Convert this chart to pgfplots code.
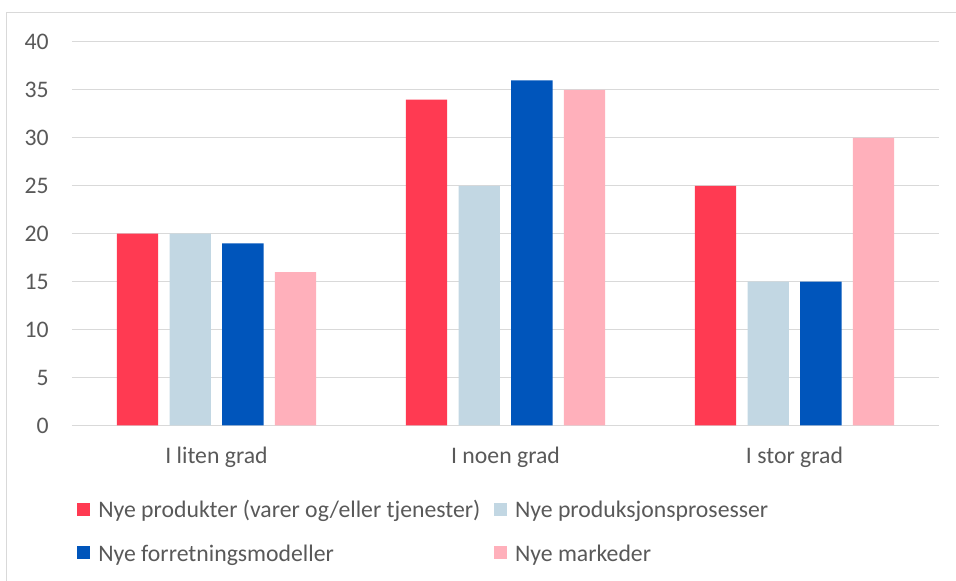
\documentclass[border=0pt]{standalone}
\usepackage{fontspec}
\setmainfont{Carlito}
\usepackage{pgfplots}
\pgfplotsset{compat=1.18}

\definecolor{cred}{HTML}{FF3A52}
\definecolor{clblue}{HTML}{C2D7E3}
\definecolor{cblue}{HTML}{0055BB}
\definecolor{cpink}{HTML}{FFB0BB}
\definecolor{gridc}{HTML}{D9D9D9}
\definecolor{textc}{HTML}{595959}

\newcommand{\chfont}{\fontsize{17.8}{21}\selectfont}

\begin{document}
\begin{tikzpicture}
\begin{axis}[
    scale only axis,
    width=650.25pt, height=287.6pt,
    ybar=8.5pt, bar width=31pt,
    xmin=-0.5, xmax=2.5,
    ymin=0, ymax=40,
    xtick={0,1,2},
    xticklabels={I liten grad, I noen grad, I stor grad},
    ytick={0,5,...,40},
    ymajorgrids,
    grid style={gridc, line width=0.75pt},
    axis line style={draw=none},
    major tick length=0pt,
    /pgf/number format/assume math mode=true,
    ticklabel style={font=\chfont, text=textc, inner sep=0pt},
    xticklabel style={anchor=north, text height=12.5pt, yshift=-15.5pt},
    yticklabel style={anchor=east, text depth=0pt, xshift=-17.25pt},
    legend columns=2,
    legend cell align=left,
    legend style={at={(0,0)}, anchor=north west, xshift=3.75pt, yshift=-56.5pt,
        draw=none, inner sep=0pt, font=\chfont, text=textc,
        nodes={inner sep=0pt, text height=12.5pt, text depth=4pt},
        row sep=16pt,
        /tikz/every odd column/.append style={column sep=6pt},
        /tikz/every even column/.append style={column sep=10.3pt}},
    legend image code/.code={\fill[#1] (0pt,-2.75pt) rectangle (9.75pt,7pt);},
]
\addplot[fill=cred, draw=none] coordinates {(0,20) (1,34) (2,25)};
\addplot[fill=clblue, draw=none] coordinates {(0,20) (1,25) (2,15)};
\addplot[fill=cblue, draw=none] coordinates {(0,19) (1,36) (2,15)};
\addplot[fill=cpink, draw=none] coordinates {(0,16) (1,35) (2,30)};
\legend{Nye produkter (varer og/eller tjenester), Nye produksjonsprosesser, Nye forretningsmodeller, Nye markeder}
\end{axis}
\draw[gridc, line width=0.75pt] (-48.75pt,-116.6pt) -- (-48.75pt,309.75pt) -- (663pt,309.75pt);
\pgfresetboundingbox
\path (-54pt,-116.6pt) rectangle (663pt,319.1pt);
\end{tikzpicture}
\end{document}
